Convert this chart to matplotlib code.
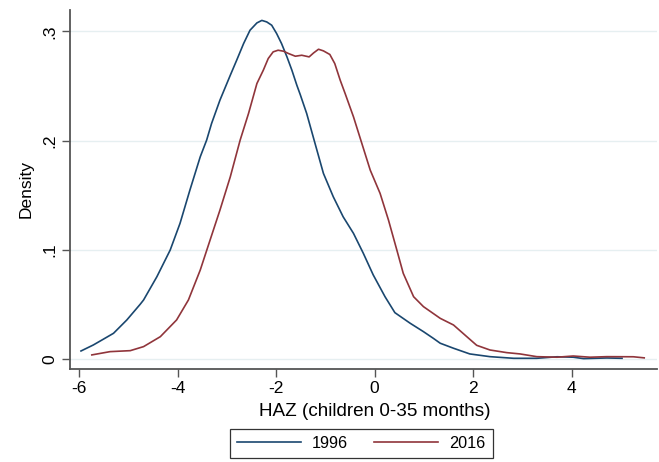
import matplotlib
matplotlib.use("Agg")
import matplotlib.pyplot as plt

plt.rcParams['font.family'] = ['Liberation Sans', 'DejaVu Sans']

# 1996 density curve (HAZ, density)
x_1996 = [-5.96, -5.71, -5.51, -5.30, -5.03, -4.76, -4.69, -4.42, -4.15, -3.95,
          -3.75, -3.54, -3.41, -3.31, -3.14, -2.93, -2.80, -2.66, -2.53, -2.39,
          -2.29, -2.19, -2.09, -1.99, -1.89, -1.78, -1.68, -1.58, -1.51, -1.38,
          -1.21, -1.04, -0.84, -0.64, -0.43, -0.23, -0.03, 0.21, 0.41, 0.72,
          0.99, 1.19, 1.33, 1.60, 1.93, 2.34, 2.82, 3.29, 3.70, 4.03,
          4.24, 4.71, 5.02]
y_1996 = [0.0073, 0.0128, 0.018, 0.0235, 0.0357, 0.050, 0.054, 0.0753, 0.0997, 0.1242,
          0.1546, 0.1851, 0.2004, 0.2156, 0.237, 0.2598, 0.2736, 0.2888, 0.301, 0.3077,
          0.310, 0.3086, 0.3056, 0.298, 0.2888, 0.2766, 0.2644, 0.2507, 0.242, 0.2248,
          0.1973, 0.1699, 0.1485, 0.1302, 0.115, 0.0967, 0.077, 0.057, 0.0424, 0.0327,
          0.025, 0.0189, 0.0144, 0.0098, 0.0046, 0.0021, 0.0006, 0.0006, 0.002, 0.0016,
          0.0003, 0.0009, 0.0006]

# 2016 density curve
x_2016 = [-5.74, -5.37, -4.96, -4.69, -4.35, -4.02, -3.78, -3.54, -3.34, -3.14,
          -2.93, -2.73, -2.56, -2.39, -2.26, -2.16, -2.06, -1.96, -1.85, -1.75,
          -1.61, -1.48, -1.33, -1.24, -1.14, -1.04, -0.91, -0.81, -0.70, -0.60,
          -0.43, -0.26, -0.09, 0.11, 0.28, 0.45, 0.58, 0.79, 0.99, 1.33,
          1.60, 1.87, 2.07, 2.34, 2.68, 2.95, 3.29, 3.70, 4.03, 4.37,
          4.71, 5.25, 5.47]
y_2016 = [0.0037, 0.0067, 0.0076, 0.0113, 0.0204, 0.0357, 0.054, 0.0814, 0.1089, 0.1363,
          0.1668, 0.2004, 0.2248, 0.2522, 0.2644, 0.2751, 0.2812, 0.2827, 0.2818, 0.2797,
          0.2772, 0.2781, 0.2766, 0.2802, 0.2836, 0.2821, 0.2788, 0.2705, 0.2553, 0.2431,
          0.2217, 0.1973, 0.1729, 0.1516, 0.1272, 0.0997, 0.0784, 0.057, 0.0479, 0.0372,
          0.0311, 0.0204, 0.0125, 0.0082, 0.0058, 0.0046, 0.0021, 0.0016, 0.0027, 0.0016,
          0.0021, 0.002, 0.001]

x_ticks = [-6, -4, -2, 0, 2, 4]
y_ticks = [0, 0.1, 0.2, 0.3]
y_tick_labels = ['0', '.1', '.2', '.3']
series_labels = ['1996', '2016']

FS = 12.5
LFS = 11.7

fig = plt.figure(figsize=(6.59, 4.62), dpi=100)
ax = fig.add_axes([0.106, 0.202, 0.891, 0.777])

for yt in y_ticks:
    ax.axhline(yt, color='#e6eff1', lw=1.0, zorder=0)

ax.plot(x_1996, y_1996, color='#1a476f', lw=1.2, label=series_labels[0])
ax.plot(x_2016, y_2016, color='#90353b', lw=1.2, label=series_labels[1])

ax.set_xlim(-6.186, 5.73)
ax.set_ylim(-0.0089, 0.3198)
ax.set_xticks(x_ticks)
ax.set_xticklabels([str(t) for t in x_ticks])
ax.set_yticks(y_ticks)
ax.set_yticklabels(y_tick_labels, rotation=90, va='center')

for s in ['top', 'right']:
    ax.spines[s].set_visible(False)
for s in ['left', 'bottom']:
    ax.spines[s].set_color('#555555')
    ax.spines[s].set_linewidth(1.3)
ax.tick_params(axis='both', direction='out', length=6, width=1.0, color='#555555',
               labelsize=FS, labelcolor='black', pad=3)

ax.set_xlabel('HAZ (children 0-35 months)', fontsize=13.6, labelpad=4)
ax.xaxis.set_label_coords(0.519, -0.095)
ax.set_ylabel('Density', fontsize=FS, labelpad=6)

leg = fig.legend(loc='upper center', bbox_to_anchor=(0.548, 0.072), ncol=2,
                 fontsize=LFS, frameon=True, fancybox=False, edgecolor='black',
                 handlelength=3.94, handletextpad=0.68, columnspacing=1.6,
                 borderpad=0.45, borderaxespad=0)
leg.get_frame().set_linewidth(0.9)

fig.savefig('out.png', dpi=100)
